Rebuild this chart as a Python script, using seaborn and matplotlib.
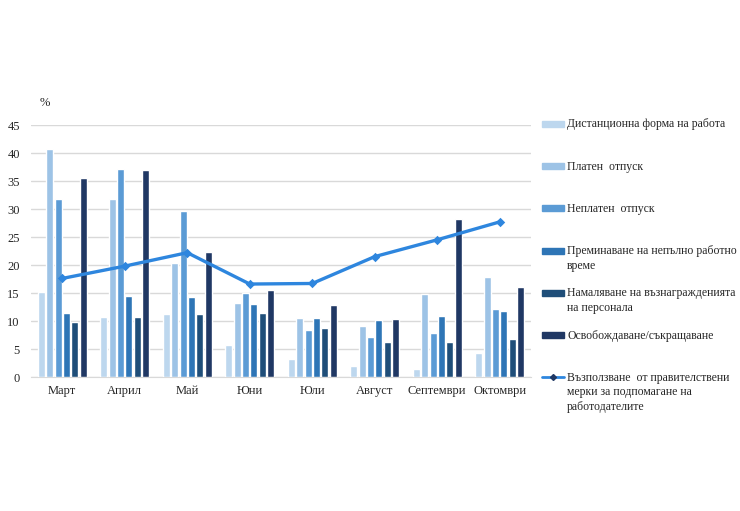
import pandas as pd
import matplotlib.pyplot as plt
import seaborn as sns
from matplotlib.patches import Rectangle
from matplotlib.lines import Line2D

# Данни (отчетени от графиката), %
meseci = ['Март', 'Април', 'Май', 'Юни', 'Юли', 'Август', 'Септември', 'Октомври']
serii = ['Дистанционна форма на работа',
         'Платен  отпуск',
         'Неплатен  отпуск',
         'Преминаване на непълно работно\nвреме',
         'Намаляване на възнагражденията\nна персонала',
         'Освобождаване/съкращаване']
liniya_ime = 'Възползване  от правителствени\nмерки за подпомагане на\nработодателите'

distancionna = [15.1, 10.8, 11.3, 5.7, 3.3, 2.0, 1.5, 4.2]
platen = [40.8, 31.7, 20.4, 13.3, 10.6, 9.1, 14.8, 17.9]
neplaten = [31.7, 37.1, 29.6, 15.0, 8.4, 7.1, 7.9, 12.1]
nepalno = [11.4, 14.4, 14.3, 13.1, 10.6, 10.1, 10.9, 11.7]
namalyavane = [9.9, 10.8, 11.3, 11.5, 8.8, 6.2, 6.2, 6.7]
osvobozhdavane = [35.5, 36.9, 22.4, 15.6, 12.9, 10.4, 28.2, 16.1]
merki = [17.6, 19.8, 22.2, 16.6, 16.7, 21.5, 24.5, 27.7]

cveta = ['#BDD7EE', '#9DC3E6', '#5B9BD5', '#2E75B6', '#1F4E79', '#203864']
cvyat_liniya = '#2E86DE'
cvyat_marker = '#1F3864'

# Дълъг формат за seaborn
df = pd.DataFrame({'Месец': meseci})
for ime, stoinosti in zip(serii, [distancionna, platen, neplaten, nepalno, namalyavane, osvobozhdavane]):
    df[ime] = stoinosti
df_long = df.melt(id_vars='Месец', var_name='Серия', value_name='Стойност')

sns.set_style('white')
plt.rcParams['font.family'] = ['Liberation Serif', 'DejaVu Serif']

fig = plt.figure(figsize=(7.4, 5.11), dpi=100)
ax = fig.add_axes([31 / 740, 1 - 377 / 511, 500 / 740, 252 / 511])

sns.barplot(data=df_long, x='Месец', y='Стойност', hue='Серия', hue_order=serii,
            palette=cveta, saturation=1, width=0.8, gap=0.15, ax=ax, legend=False, zorder=3)

sns.pointplot(x=meseci, y=merki, color=cvyat_liniya, markers='D', markersize=3,
              linewidth=2.4, ax=ax, zorder=4)
ax.lines[-1].set_markerfacecolor(cvyat_marker)
ax.lines[-1].set_markeredgecolor(cvyat_marker)

ax.set_ylim(0, 45)
ax.set_xlim(-0.5, 7.5)
ax.set_yticks(range(0, 46, 5))
ax.yaxis.grid(True, color='#D9D9D9', linewidth=1, zorder=0)
ax.set_axisbelow(True)
for s in ['top', 'right', 'left']:
    ax.spines[s].set_visible(False)
ax.spines['bottom'].set_color('#D9D9D9')
ax.tick_params(axis='both', length=0, labelsize=9, colors='#262626')
ax.tick_params(axis='y', pad=8)
ax.tick_params(axis='x', pad=6)
ax.set_xlabel('')
ax.set_ylabel('')

fig.text(40 / 740, 1 - 103 / 511, '%', fontsize=9, color='#262626', va='center')

# Легенда (като в Excel — стъпка по първия ред)
etiketi = serii + [liniya_ime]
for i, etiket in enumerate(etiketi):
    yc = 1 - (124 + 42.2 * i) / 511
    if i < len(serii):
        fig.patches.append(Rectangle((542 / 740, yc - 3 / 511), 22 / 740, 6 / 511,
                                     transform=fig.transFigure, color=cveta[i], figure=fig))
    else:
        fig.lines.append(Line2D([542 / 740, 564 / 740], [yc, yc], transform=fig.transFigure,
                                color=cvyat_liniya, linewidth=2, figure=fig))
        fig.lines.append(Line2D([553 / 740], [yc], transform=fig.transFigure, marker='D',
                                markersize=3, color=cvyat_marker, figure=fig))
    fig.text(567 / 740, yc + 5.5 / 511, etiket, fontsize=8.5, color='#262626', va='top',
             linespacing=1.3)

fig.savefig('out.png', dpi=100, facecolor='white')
